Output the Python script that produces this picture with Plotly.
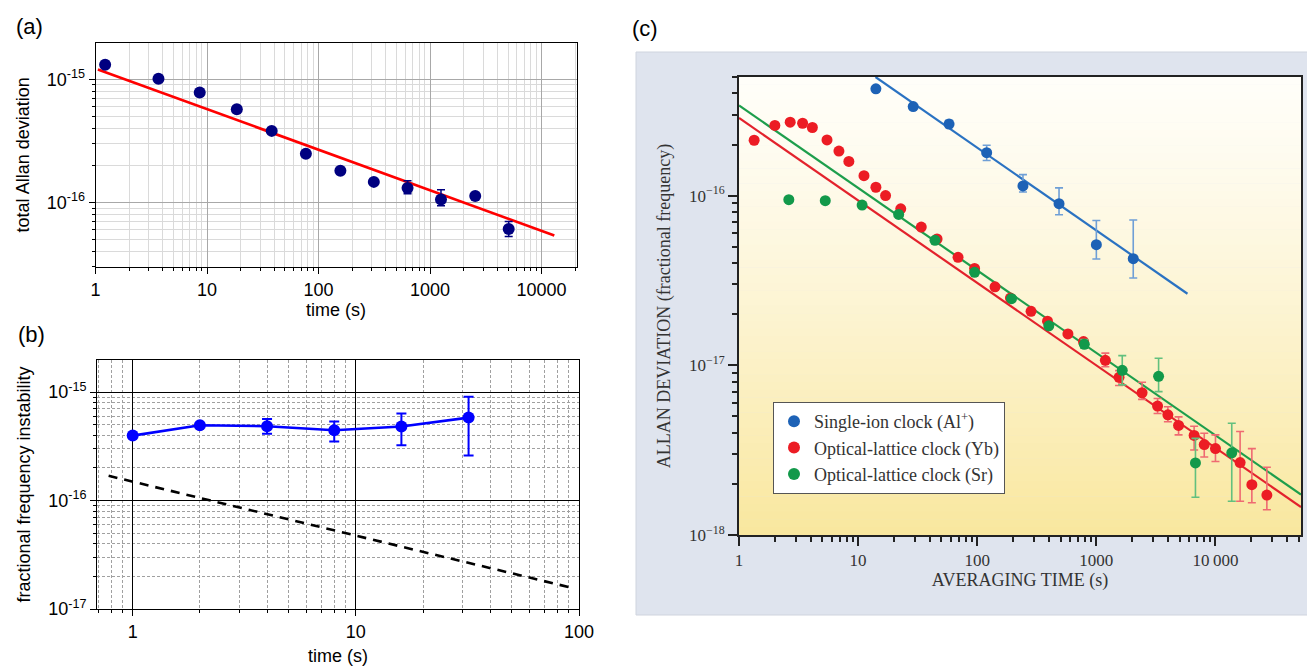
import plotly.graph_objects as go

W, H = 1315, 667

# ---------------- panel (a) data ----------------
a_time = [1.22, 3.67, 8.6, 18.5, 38, 77, 157, 313, 628, 1253, 2540, 5070]
a_adev = [1.31e-15, 1.01e-15, 7.8e-16, 5.7e-16, 3.81e-16, 2.49e-16, 1.81e-16,
          1.47e-16, 1.31e-16, 1.06e-16, 1.13e-16, 6.1e-17]
a_hi = [1.31e-15, 1.01e-15, 7.8e-16, 5.7e-16, 3.81e-16, 2.49e-16, 1.81e-16,
        1.47e-16, 1.5e-16, 1.27e-16, 1.13e-16, 7.0e-17]
a_lo = [1.31e-15, 1.01e-15, 7.8e-16, 5.7e-16, 3.81e-16, 2.49e-16, 1.81e-16,
        1.47e-16, 1.18e-16, 9.4e-17, 1.13e-16, 5.3e-17]
a_fit_time = [1.05, 13000]
a_fit_adev = [1.2e-15, 5.4e-17]

# ---------------- panel (b) data ----------------
b_time = [1, 2, 4, 8, 16, 32]
b_inst = [3.97e-16, 4.95e-16, 4.85e-16, 4.45e-16, 4.81e-16, 5.82e-16]
b_hi = [4.0e-16, 5.15e-16, 5.66e-16, 5.35e-16, 6.34e-16, 9.05e-16]
b_lo = [3.95e-16, 4.78e-16, 4.14e-16, 3.5e-16, 3.24e-16, 2.6e-16]
b_ref_time = [0.78, 95]
b_ref_inst = [1.69e-16, 1.55e-17]

# ---------------- panel (c) data ----------------
al_time = [14.1, 29, 58, 120, 242, 486, 1000, 2040]
al_adev = [4.26e-16, 3.35e-16, 2.64e-16, 1.79e-16, 1.14e-16, 8.97e-17, 5.14e-17, 4.25e-17]
al_hi = [4.26e-16, 3.35e-16, 2.78e-16, 1.98e-16, 1.33e-16, 1.11e-16, 7.13e-17, 7.19e-17]
al_lo = [4.26e-16, 3.35e-16, 2.52e-16, 1.61e-16, 1.05e-16, 7.72e-17, 4.23e-17, 3.27e-17]
al_fit_time = [14, 5820]
al_fit_adev = [5.0e-16, 2.64e-17]

yb_time = [1.34, 2.0, 2.69, 3.42, 4.13, 5.48, 6.9, 8.36, 11.2, 14.1, 17.0, 22.8,
           33.9, 46, 69, 95, 141, 190, 283, 389, 577, 780, 1190, 1550, 2420,
           3265, 3985, 4900, 6620, 8050, 10000, 16100, 20200, 27000]
yb_adev = [2.12e-16, 2.59e-16, 2.71e-16, 2.67e-16, 2.52e-16, 2.13e-16, 1.83e-16,
           1.59e-16, 1.31e-16, 1.12e-16, 1.0e-16, 8.36e-17, 6.53e-17, 5.55e-17,
           4.33e-17, 3.72e-17, 2.9e-17, 2.49e-17, 2.08e-17, 1.82e-17, 1.53e-17,
           1.38e-17, 1.07e-17, 8.49e-18, 6.89e-18, 5.75e-18, 5.11e-18, 4.42e-18,
           3.86e-18, 3.41e-18, 3.23e-18, 2.67e-18, 1.98e-18, 1.72e-18]
yb_hi = [2.12e-16, 2.59e-16, 2.71e-16, 2.67e-16, 2.52e-16, 2.13e-16, 1.83e-16,
         1.59e-16, 1.31e-16, 1.12e-16, 1.0e-16, 8.36e-17, 6.53e-17, 5.55e-17,
         4.33e-17, 3.72e-17, 2.9e-17, 2.49e-17, 2.08e-17, 1.82e-17, 1.53e-17,
         1.38e-17, 1.18e-17, 9.3e-18, 7.94e-18, 6.38e-18, 5.7e-18, 4.97e-18,
         4.37e-18, 3.98e-18, 3.89e-18, 4.07e-18, 3.23e-18, 2.51e-18]
yb_lo = [2.12e-16, 2.59e-16, 2.71e-16, 2.67e-16, 2.52e-16, 2.13e-16, 1.83e-16,
         1.59e-16, 1.31e-16, 1.12e-16, 1.0e-16, 8.36e-17, 6.53e-17, 5.55e-17,
         4.33e-17, 3.72e-17, 2.9e-17, 2.49e-17, 2.08e-17, 1.82e-17, 1.53e-17,
         1.38e-17, 9.8e-18, 7.6e-18, 6.3e-18, 5.2e-18, 4.65e-18, 3.89e-18,
         3.17e-18, 2.88e-18, 2.71e-18, 1.58e-18, 1.55e-18, 1.41e-18]
yb_fit_time = [1, 52240]
yb_fit_adev = [2.87e-16, 1.46e-18]

sr_time = [2.62, 5.3, 10.8, 21.9, 44.2, 95, 194, 399, 792, 1650, 3330, 6790, 13700]
sr_adev = [9.47e-17, 9.34e-17, 8.8e-17, 7.75e-17, 5.45e-17, 3.53e-17, 2.47e-17,
           1.71e-17, 1.33e-17, 9.34e-18, 8.61e-18, 2.66e-18, 3.05e-18]
sr_hi = [9.47e-17, 9.34e-17, 8.8e-17, 7.75e-17, 5.45e-17, 3.53e-17, 2.47e-17,
         1.71e-17, 1.42e-17, 1.14e-17, 1.10e-17, 3.71e-18, 4.56e-18]
sr_lo = [9.47e-17, 9.34e-17, 8.8e-17, 7.75e-17, 5.45e-17, 3.53e-17, 2.47e-17,
         1.71e-17, 1.26e-17, 7.67e-18, 7.0e-18, 1.67e-18, 1.58e-18]
sr_fit_time = [1, 52240]
sr_fit_adev = [3.40e-16, 1.73e-18]

c_xtick_vals = [1, 10, 100, 1000, 10000]
c_xtick_text = ["1", "10", "100", "1000", "10\u2009000"]


def plus(hi, v):
    return [h - x for h, x in zip(hi, v)]


def minus(lo, v):
    return [x - l for l, x in zip(lo, v)]


def minors(e0, e1):
    return [m * 10.0 ** e for e in range(e0, e1 + 1) for m in range(2, 10)]


def dom(p0, p1, total):
    return [p0 / total, p1 / total]


def ydom(top, bottom):
    return [1 - bottom / H, 1 - top / H]


SANS = "Liberation Sans, Arial, Helvetica, sans-serif"
SERIF = "Liberation Serif, Times New Roman, serif"

fig = go.Figure()

# ---- (a)
fig.add_trace(go.Scatter(x=a_fit_time, y=a_fit_adev, mode="lines",
                         line=dict(color="#ff0000", width=2.6),
                         xaxis="x", yaxis="y", showlegend=False))
fig.add_trace(go.Scatter(x=a_time, y=a_adev, mode="markers",
                         marker=dict(color="#000080", size=12),
                         error_y=dict(type="data", symmetric=False,
                                      array=plus(a_hi, a_adev),
                                      arrayminus=minus(a_lo, a_adev),
                                      color="#000080", thickness=1.5, width=4),
                         xaxis="x", yaxis="y", showlegend=False))

# ---- (b)
fig.add_trace(go.Scatter(x=b_ref_time, y=b_ref_inst, mode="lines",
                         line=dict(color="black", width=2.6, dash="9px,7px"),
                         xaxis="x2", yaxis="y2", showlegend=False))
fig.add_trace(go.Scatter(x=b_time, y=b_inst, mode="lines+markers",
                         marker=dict(color="#0000ff", size=12),
                         line=dict(color="#0000ff", width=2.6),
                         error_y=dict(type="data", symmetric=False,
                                      array=plus(b_hi, b_inst),
                                      arrayminus=minus(b_lo, b_inst),
                                      color="#0000ff", thickness=2, width=5),
                         xaxis="x2", yaxis="y2", showlegend=False))

# ---- (c)
for t, v, col in [(al_fit_time, al_fit_adev, "#2a72c2"),
                  (yb_fit_time, yb_fit_adev, "#e3222c"),
                  (sr_fit_time, sr_fit_adev, "#1d9e4c")]:
    fig.add_trace(go.Scatter(x=t, y=v, mode="lines", line=dict(color=col, width=2.2),
                             xaxis="x3", yaxis="y3", showlegend=False))

for name, t, v, hi, lo, col, ecol in [
    ("Single-ion clock (Al<sup>+</sup>)", al_time, al_adev, al_hi, al_lo, "#1d62b6", "#6f9fd6"),
    ("Optical-lattice clock (Yb)", yb_time, yb_adev, yb_hi, yb_lo, "#ec1c24", "#ef6a72"),
    ("Optical-lattice clock (Sr)", sr_time, sr_adev, sr_hi, sr_lo, "#12994a", "#62c07e"),
]:
    fig.add_trace(go.Scatter(x=t, y=v, mode="markers", name=name,
                             marker=dict(color=col, size=11),
                             error_y=dict(type="data", symmetric=False,
                                          array=plus(hi, v), arrayminus=minus(lo, v),
                                          color=ecol, thickness=1.6, width=4),
                             xaxis="x3", yaxis="y3"))

# ---- background for (c): framed panel + vertical gradient
shapes = [dict(type="rect", xref="paper", yref="paper",
               x0=628 / W, x1=1.0, y0=1 - 607 / H, y1=1 - 44 / H,
               fillcolor="#dfe4ee", line=dict(color="#cfd4de", width=1), layer="below")]
N = 60
top = (255, 254, 249)
bot = (249, 231, 158)
for i in range(N):
    f = ((i + 0.5) / N) ** 1.25   # 0 at top, 1 at bottom
    c = tuple(int(round(top[k] * (1 - f) + bot[k] * f)) for k in range(3))
    shapes.append(dict(type="rect", xref="x3 domain", yref="y3 domain",
                       x0=0, x1=1, y0=1 - (i + 1) / N, y1=1 - i / N + 0.001,
                       fillcolor="rgb(%d,%d,%d)" % c, line=dict(width=0), layer="below"))

axis_font = dict(family=SANS, size=18, color="black")
ctick = dict(family=SERIF, size=17, color="#333333")
ctitle = dict(family=SERIF, size=18, color="#333333")

fig.update_layout(
    width=W, height=H, margin=dict(l=0, r=0, t=0, b=0, autoexpand=False),
    paper_bgcolor="white", plot_bgcolor="white",
    shapes=shapes,
    showlegend=True,
    legend=dict(x=765 / W, y=1 - 394 / H, xanchor="left", yanchor="top",
                bgcolor="white", bordercolor="#555555", borderwidth=1,
                font=dict(family=SERIF, size=18, color="#333333"),
                itemsizing="constant", tracegroupgap=0),
    xaxis=dict(type="log", domain=dom(87.5, 568.5, W), anchor="y", automargin=False,
               range=[0, 4.313], tickvals=[1, 10, 100, 1000, 10000],
               ticktext=["1", "10", "100", "1000", "10000"],
               ticks="outside", ticklen=6, tickcolor="black", tickfont=axis_font,
               showline=True, linecolor="black", linewidth=1, mirror=True,
               showgrid=True, gridcolor="#a8a8a8", gridwidth=1, zeroline=False,
               minor=dict(tickvals=minors(0, 4), ticks="outside", ticklen=3,
                          tickcolor="black", showgrid=True, gridcolor="#dadada", gridwidth=1),
               title=dict(text="time (s)", font=axis_font, standoff=2)),
    yaxis=dict(type="log", domain=ydom(34.7, 259), anchor="x", automargin=False,
               range=[-16.523, -14.704], tickvals=[1e-16, 1e-15],
               ticktext=["10<sup>-16</sup>", "10<sup>-15</sup>"],
               ticks="outside", ticklen=6, tickcolor="black", tickfont=axis_font,
               showline=True, linecolor="black", linewidth=1, mirror=True,
               showgrid=True, gridcolor="#a8a8a8", gridwidth=1, zeroline=False,
               minor=dict(tickvals=minors(-17, -15), ticks="outside", ticklen=3,
                          tickcolor="black", showgrid=True, gridcolor="#dadada", gridwidth=1),
               title=dict(text="total Allan deviation", font=axis_font, standoff=12)),
    xaxis2=dict(type="log", domain=dom(89, 571, W), anchor="y2", automargin=False,
                range=[-0.16, 2], tickvals=[1, 10, 100], ticktext=["1", "10", "100"],
                ticks="outside", ticklen=6, tickcolor="black", tickfont=axis_font,
                showline=True, linecolor="black", linewidth=1, mirror=True,
                showgrid=True, gridcolor="black", gridwidth=1, zeroline=False,
                minor=dict(tickvals=minors(-1, 1), ticks="outside", ticklen=3,
                           tickcolor="black", showgrid=True, gridcolor="#a0a0a0",
                           gridwidth=0.8, griddash="3px,2px"),
                title=dict(text="time (s)", font=axis_font, standoff=8)),
    yaxis2=dict(type="log", domain=ydom(352, 601), anchor="x2", automargin=False,
                range=[-17, -14.704], tickvals=[1e-17, 1e-16, 1e-15],
                ticktext=["10<sup>-17</sup>", "10<sup>-16</sup>", "10<sup>-15</sup>"],
                ticks="outside", ticklen=6, tickcolor="black", tickfont=axis_font,
                showline=True, linecolor="black", linewidth=1, mirror=True,
                showgrid=True, gridcolor="black", gridwidth=1, zeroline=False,
                minor=dict(tickvals=minors(-17, -15), ticks="outside", ticklen=3,
                           tickcolor="black", showgrid=True, gridcolor="#a0a0a0",
                           gridwidth=0.8, griddash="3px,2px"),
                title=dict(text="fractional frequency instability", font=axis_font, standoff=12)),
    xaxis3=dict(type="log", domain=dom(731, 1293, W), anchor="y3", automargin=False,
                range=[0, 4.718], tickvals=c_xtick_vals, ticktext=c_xtick_text,
                ticks="outside", ticklen=9, tickwidth=1.5, tickcolor="#222", tickfont=ctick,
                showline=True, linecolor="#222", linewidth=2, mirror=True,
                showgrid=False, zeroline=False,
                minor=dict(tickvals=minors(0, 4), ticks="outside", ticklen=5,
                           tickwidth=1.5, tickcolor="#222", showgrid=False),
                title=dict(text="AVERAGING TIME (s)", font=ctitle, standoff=4)),
    yaxis3=dict(type="log", domain=ydom(69, 527), anchor="x3", automargin=False,
                range=[-18, -15.301], tickvals=[1e-18, 1e-17, 1e-16],
                ticktext=["10<sup>\u221218</sup>", "10<sup>\u221217</sup>", "10<sup>\u221216</sup>"],
                ticks="outside", ticklen=9, tickwidth=1.5, tickcolor="#222", tickfont=ctick,
                showline=True, linecolor="#222", linewidth=2, mirror=True,
                showgrid=False, zeroline=False,
                minor=dict(tickvals=minors(-18, -16), ticks="outside", ticklen=5,
                           tickwidth=1.5, tickcolor="#222", showgrid=False),
                title=dict(text="ALLAN DEVIATION (fractional frequency)", font=ctitle, standoff=14)),
    annotations=[
        dict(text="(a)", x=6 / W, y=1 - 4 / H, xref="paper", yref="paper",
             xanchor="left", yanchor="top", showarrow=False,
             font=dict(family=SANS, size=22, color="black")),
        dict(text="(b)", x=8 / W, y=1 - 312 / H, xref="paper", yref="paper",
             xanchor="left", yanchor="top", showarrow=False,
             font=dict(family=SANS, size=22, color="black")),
        dict(text="(c)", x=622 / W, y=1 - 6 / H, xref="paper", yref="paper",
             xanchor="left", yanchor="top", showarrow=False,
             font=dict(family=SANS, size=22, color="black")),
    ],
)

fig.write_html("out.html")
